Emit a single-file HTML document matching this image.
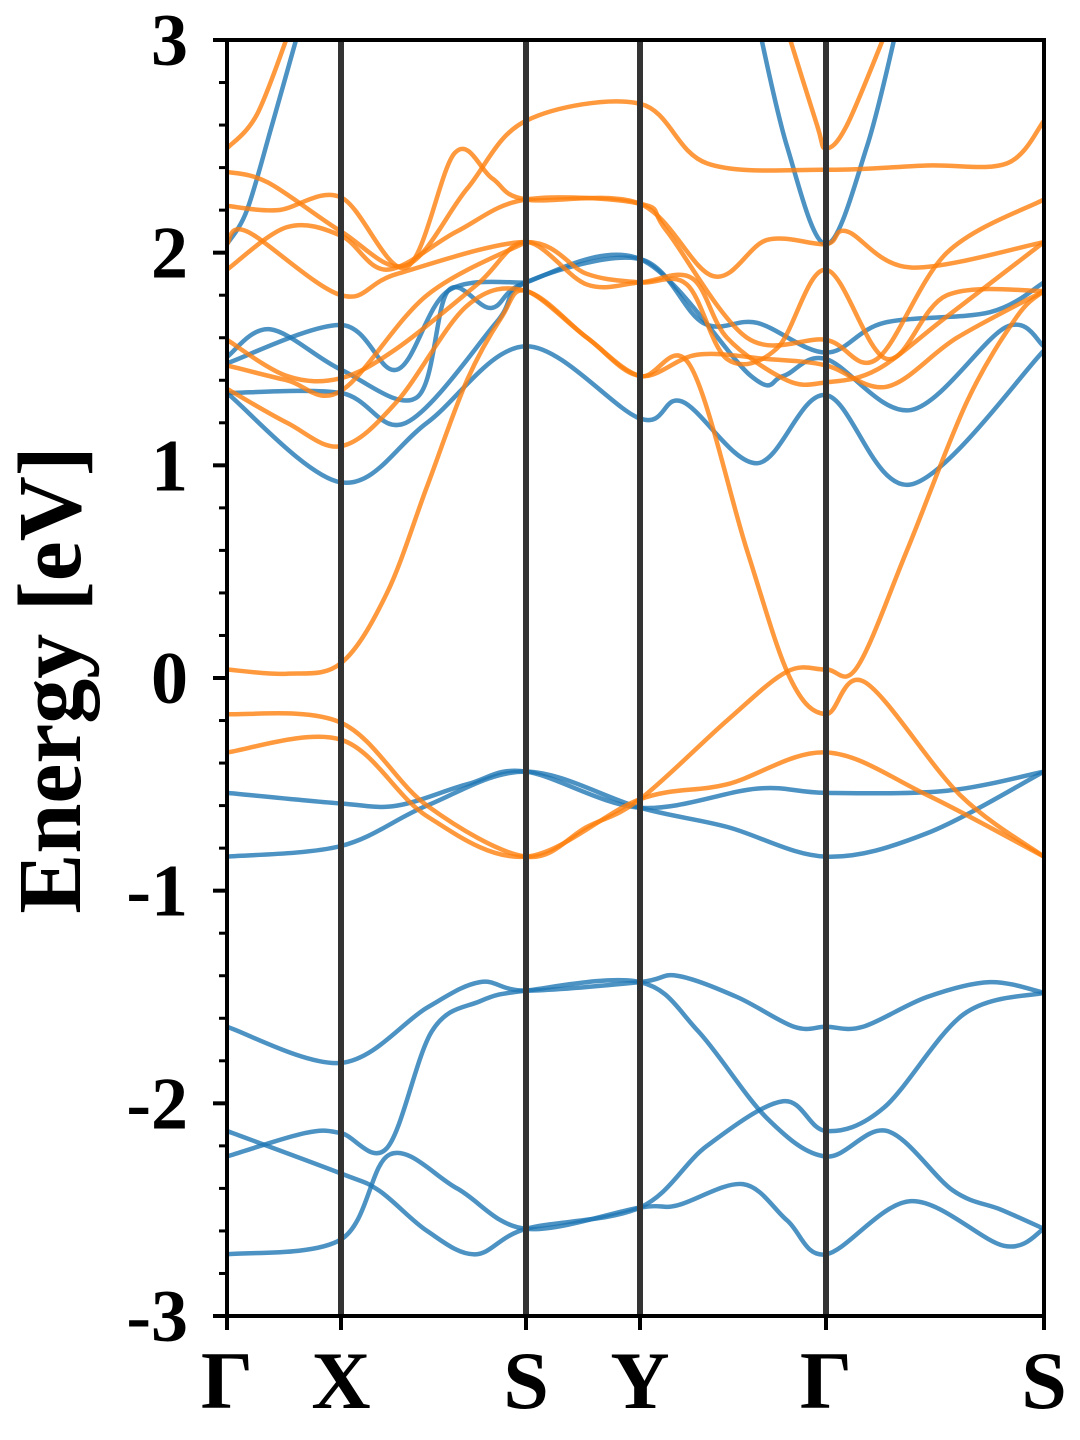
<!DOCTYPE html>
<html><head><meta charset="utf-8"><style>
html,body{margin:0;padding:0;background:#fff;}
svg{display:block;font-family:"Liberation Serif",serif;font-weight:bold;}
</style></head><body>
<svg id="chart" width="1080" height="1440" viewBox="0 0 1080 1440" xmlns="http://www.w3.org/2000/svg">
<defs><clipPath id="clip"><rect x="227" y="40" width="817" height="1276"/></clipPath></defs>
<g id="bands" clip-path="url(#clip)"></g>
<g id="frame"></g>
<text transform="translate(80,680) rotate(-90)" text-anchor="middle" font-size="90">Energy [eV]</text>
</svg>
<script>
const kLabels = ["Γ","X","S","Y","Γ","S"];
const kPos = [0,114,299,413,599,817];
const yTicks = [-3,-2,-1,0,1,2,3];
const blueBands = [
 [[0,-1.64],[114,-1.81],[200,-1.55],[253,-1.43],[299,-1.47],[413,-1.43],[450,-1.40],[510,-1.50],[567,-1.64],[599,-1.64],[636,-1.64],[700,-1.50],[763,-1.43],[817,-1.48]],
 [[0,-2.25],[78,-2.14],[114,-2.14],[160,-2.21],[205,-1.66],[253,-1.52],[299,-1.47],[413,-1.43],[471,-1.66],[540,-2.07],[599,-2.25],[660,-2.13],[726,-2.41],[774,-2.50],[817,-2.59]],
 [[0,-2.13],[114,-2.33],[152,-2.41],[200,-2.60],[248,-2.71],[299,-2.59],[413,-2.49],[480,-2.20],[556,-1.99],[599,-2.13],[657,-2.02],[737,-1.58],[817,-1.48]],
 [[0,-2.71],[114,-2.64],[163,-2.24],[230,-2.40],[299,-2.59],[413,-2.49],[450,-2.48],[516,-2.38],[560,-2.55],[599,-2.71],[684,-2.46],[777,-2.67],[817,-2.59]],
 [[0,-0.54],[114,-0.59],[170,-0.60],[240,-0.50],[299,-0.44],[413,-0.61],[530,-0.52],[599,-0.54],[720,-0.53],[817,-0.44]],
 [[0,-0.84],[114,-0.79],[200,-0.60],[299,-0.44],[413,-0.61],[500,-0.70],[599,-0.84],[700,-0.73],[817,-0.44]],
 [[0,1.34],[114,0.92],[200,1.20],[299,1.56],[413,1.22],[455,1.30],[530,1.01],[599,1.33],[684,0.91],[817,1.54]],
 [[0,1.34],[114,1.34],[179,1.20],[269,1.67],[299,1.86],[413,1.97],[476,1.67],[530,1.67],[599,1.53],[657,1.67],[763,1.72],[817,1.86]],
 [[0,1.51],[43,1.64],[114,1.45],[190,1.32],[221,1.82],[264,1.74],[299,1.86],[413,1.97],[524,1.42],[556,1.42],[599,1.50],[684,1.26],[779,1.65],[817,1.56]],
 [[0,1.48],[114,1.66],[170,1.45],[221,1.82],[299,1.86]],
 [[0,2.04],[20,2.2],[45,2.6],[75,3.1]],
 [[530,3.1],[560,2.5],[599,2.04],[640,2.5],[672,3.1]]
];
const orangeBands = [
 [[0,0.04],[60,0.02],[114,0.07],[160,0.40],[200,0.90],[240,1.40],[275,1.70],[299,1.82],[360,1.60],[413,1.42],[463,1.47],[520,0.60],[563,0.0],[599,-0.17],[638,-0.02],[733,-0.55],[817,-0.84]],
 [[0,-0.17],[114,-0.21],[200,-0.60],[299,-0.84],[360,-0.70],[413,-0.57],[500,-0.20],[560,0.03],[599,0.04],[630,0.05],[680,0.60],[740,1.30],[790,1.70],[817,1.82]],
 [[0,-0.35],[114,-0.29],[200,-0.65],[299,-0.84],[413,-0.57],[500,-0.50],[599,-0.35],[700,-0.55],[817,-0.84]],
 [[0,2.49],[30,2.65],[63,3.05]],
 [[560,3.05],[590,2.6],[599,2.49],[620,2.6],[660,3.05]],
 [[0,2.38],[41,2.33],[114,2.10],[179,1.94],[240,2.30],[299,2.62],[413,2.70],[480,2.42],[599,2.39],[700,2.41],[780,2.42],[817,2.62]],
 [[0,2.22],[51,2.20],[114,2.26],[179,1.93],[228,2.47],[265,2.35],[299,2.25],[413,2.23],[486,1.89],[540,2.06],[599,2.04],[620,2.10],[684,1.93],[817,2.05]],
 [[0,2.04],[20,2.10],[114,1.80],[170,1.90],[299,2.05],[360,1.90],[413,1.86],[460,1.85],[500,1.50],[550,1.55],[599,1.92],[660,1.50],[720,1.80],[817,1.82]],
 [[0,1.92],[60,2.12],[114,2.08],[160,1.92],[230,2.10],[299,2.25],[413,2.23],[440,2.10],[520,1.60],[599,1.59],[650,1.50],[720,2.00],[817,2.25]],
 [[0,1.59],[60,1.42],[114,1.41],[170,1.55],[250,1.85],[299,2.05],[360,1.85],[413,1.86],[465,1.88],[500,1.60],[560,1.40],[599,1.39],[650,1.45],[720,1.70],[817,2.05]],
 [[0,1.47],[60,1.40],[114,1.35],[200,1.80],[299,2.05]],
 [[0,1.36],[60,1.20],[114,1.09],[170,1.30],[240,1.75],[299,1.82],[360,1.60],[413,1.42],[470,1.52],[540,1.50],[599,1.47],[660,1.37],[730,1.60],[817,1.82]]
];
const X0=227, X1=1044, Y0=40, Y1=1316;
function xs(k){return X0+(k/817)*(X1-X0);}
function ys(e){return Y1-(e+3)/6*(Y1-Y0);}
const NS="http://www.w3.org/2000/svg";
function pathFor(pts){
  const p=pts.map(d=>[xs(d[0]),ys(d[1])]);
  let s="M"+p[0][0]+","+p[0][1];
  for(let i=0;i<p.length-1;i++){
    const p0=p[i-1]||p[i],p1=p[i],p2=p[i+1],p3=p[i+2]||p2;
    const c1=[p1[0]+(p2[0]-p0[0])/6,p1[1]+(p2[1]-p0[1])/6];
    const c2=[p2[0]-(p3[0]-p1[0])/6,p2[1]-(p3[1]-p1[1])/6];
    s+=" C"+c1[0]+","+c1[1]+" "+c2[0]+","+c2[1]+" "+p2[0]+","+p2[1];
  }
  return s;
}
const g=document.getElementById("bands");
function draw(arr,color,name){
  arr.forEach((b,i)=>{
    const el=document.createElementNS(NS,"path");
    el.setAttribute("d",pathFor(b));
    el.setAttribute("fill","none");
    el.setAttribute("stroke",color);
    el.setAttribute("stroke-opacity","0.8");
    el.setAttribute("stroke-width","4.5");
    
    
    g.appendChild(el);
  });
}
draw(blueBands,"#1f77b4","spin-up-band");
draw(orangeBands,"#ff7f0e","spin-down-band");
const f=document.getElementById("frame");
kPos.forEach((k,i)=>{
  if(i>0&&i<kPos.length-1){
    const l=document.createElementNS(NS,"line");
    l.setAttribute("x1",xs(k));l.setAttribute("x2",xs(k));
    l.setAttribute("y1",Y0);l.setAttribute("y2",Y1);
    l.setAttribute("stroke","#333");l.setAttribute("stroke-width","6");
    
    
    f.appendChild(l);
  }
  const t=document.createElementNS(NS,"text");
  t.setAttribute("x",xs(k));t.setAttribute("y",1408);
  t.setAttribute("text-anchor","middle");t.setAttribute("font-size","82");
  t.textContent=kLabels[i];
  
  
  f.appendChild(t);
  const tk=document.createElementNS(NS,"line");
  tk.setAttribute("x1",xs(k));tk.setAttribute("x2",xs(k));
  tk.setAttribute("y1",Y1);tk.setAttribute("y2",Y1+14);
  tk.setAttribute("stroke","#000");tk.setAttribute("stroke-width","4");
  f.appendChild(tk);
});
for(let v=-3;v<=3.001;v+=0.2){
  const major=Math.abs(v-Math.round(v))<1e-6;
  const l=document.createElementNS(NS,"line");
  l.setAttribute("x1",X0);l.setAttribute("x2",X0-(major?14:8));
  l.setAttribute("y1",ys(v));l.setAttribute("y2",ys(v));
  l.setAttribute("stroke","#000");l.setAttribute("stroke-width",major?"4":"3");
  
  
  f.appendChild(l);
}
yTicks.forEach(v=>{
  const t=document.createElementNS(NS,"text");
  t.setAttribute("x",188);t.setAttribute("y",ys(v)+25);
  t.setAttribute("text-anchor","end");t.setAttribute("font-size","74");
  t.textContent=String(v);
  
  
  f.appendChild(t);
});
const r=document.createElementNS(NS,"rect");
r.setAttribute("x",X0);r.setAttribute("y",Y0);r.setAttribute("width",X1-X0);r.setAttribute("height",Y1-Y0);
r.setAttribute("fill","none");r.setAttribute("stroke","#000");r.setAttribute("stroke-width","4");


f.appendChild(r);
</script>
</body></html>
